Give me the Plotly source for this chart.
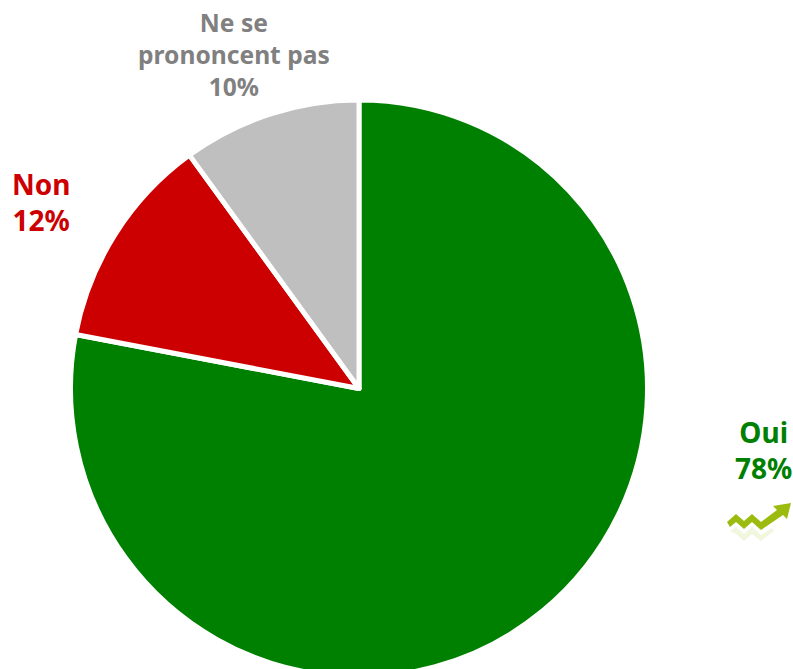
import plotly.graph_objects as go

categories = ["Oui", "Non", "Ne se<br>prononcent pas"]
values = [78, 12, 10]
slice_colors = ["#008000", "#CC0000", "#BFBFBF"]
text_colors = ["#008000", "#CC0000", "#808080"]
font_sizes = [28, 28, 24.6]
label_x = [763, 41, 234]
label_y = [450, 202, 54]

W, H = 793, 677
PIE_TOP = 100
FONT = "Noto Sans"

fig = go.Figure(go.Pie(
    labels=categories, values=values, sort=False, direction="clockwise", rotation=0,
    marker=dict(colors=slice_colors, line=dict(color="white", width=5)),
    textinfo="none", hoverinfo="label+percent", showlegend=False,
    domain=dict(x=[0, 718 / W], y=[0, 1 - PIE_TOP / H]),
))

for c, v, col, fs, x, y in zip(categories, values, text_colors, font_sizes, label_x, label_y):
    fig.add_annotation(
        x=x / W, y=1 - y / H, xref="paper", yref="paper", xanchor="center", yanchor="middle",
        text=f"<b>{c}<br>{v}%</b>", showarrow=False, align="center",
        font=dict(family=FONT, size=fs, color=col),
    )

def px(points):
    return "M" + " L".join(f"{x / W:.5f},{1 - y / H:.5f}" for x, y in points) + " Z"

arrow = [(727, 522), (736, 514), (744, 521), (752, 514), (761, 522), (777, 510), (773, 506),
         (791, 503), (787, 519), (783, 515), (761, 530), (752, 522), (744, 529), (736, 522), (730, 527)]
fig.add_shape(type="path", xref="paper", yref="paper", path=px([(730, 531), (736, 527), (744, 534), (752, 527), (761, 535),
              (772, 528), (774, 531), (761, 541), (752, 534), (744, 541), (736, 534)]),
              fillcolor="rgba(155,190,20,0.14)", line_width=0)
fig.add_shape(type="path", xref="paper", yref="paper", path=px(arrow),
              fillcolor="#9BBB0F", line_width=0)

fig.update_layout(
    width=W, height=H, margin=dict(l=0, r=0, t=0, b=0),
    paper_bgcolor="white", plot_bgcolor="white",
)
fig.write_html("out.html", config=dict(displayModeBar=False),
               post_script="document.documentElement.style.overflow='hidden';document.body.style.margin='0';document.body.style.overflow='hidden';")
